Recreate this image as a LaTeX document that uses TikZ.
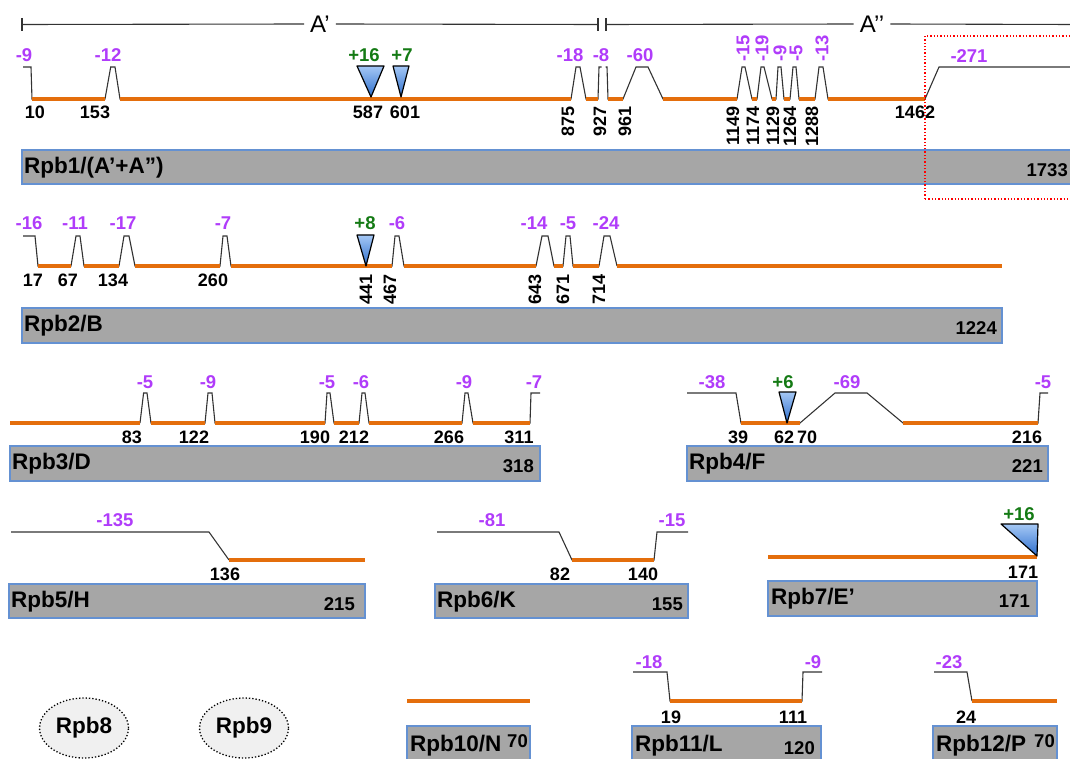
\documentclass[tikz,border=0pt]{standalone}
\usepackage{fontspec}
\setmainfont{Liberation Sans}
\usetikzlibrary{shapes.geometric}

\definecolor{seqorange}{RGB}{228,110,12}
\definecolor{delpurple}{RGB}{176,60,250}
\definecolor{insgreen}{RGB}{20,122,20}
\definecolor{boxgray}{RGB}{166,166,166}
\definecolor{boxblue}{RGB}{100,145,210}
\definecolor{tritop}{RGB}{165,200,245}
\definecolor{tribot}{RGB}{45,110,205}

\tikzset{
  prof/.style={line width=1.1pt, black!80},
  seq/.style={line width=4.5pt, seqorange},
  subbox/.style={draw=boxblue, fill=boxgray, line width=1.2pt},
  del/.style={text=delpurple, font=\bfseries\fontsize{18.5}{20}\selectfont, inner sep=0pt},
  ins/.style={text=insgreen, font=\bfseries\fontsize{18.5}{20}\selectfont, inner sep=0pt},
  num/.style={font=\bfseries\fontsize{18}{20}\selectfont, inner sep=0pt},
  pname/.style={font=\bfseries\fontsize{22.5}{24}\selectfont, anchor=west, inner sep=0pt},
  plen/.style={font=\bfseries\fontsize{18.5}{20}\selectfont, anchor=east, inner sep=0pt},
  tri/.style={draw=black, line width=1.2pt, top color=tritop, bottom color=tribot, line join=round},
  blob/.style={ellipse, draw, dotted, line width=1.3pt, fill=gray!12, minimum width=80pt, minimum height=60pt,
    font=\bfseries\fontsize{22.5}{24}\selectfont},
}

\begin{document}
\begin{tikzpicture}[x=1pt, y=-1pt]
\useasboundingbox (0,0) rectangle (1070,759);
\clip (0,0) rectangle (1070,759);

% domain bar
\node[font=\fontsize{24}{26}\selectfont, inner xsep=6pt] (aone) at (320,24) {A’};
\node[font=\fontsize{24}{26}\selectfont, inner xsep=6pt] (atwo) at (872,24) {A’’};
\coordinate (barL) at (22,24.5);
\coordinate (brkL) at (598,24.5);
\coordinate (brkR) at (606,24.5);
\coordinate (barR) at (1075,24.5);
\draw[prof] (22,18) -- (22,31);
\draw[prof] (598,18) -- (598,31);
\draw[prof] (606,18) -- (606,31);
\draw[prof] (barL) -- (aone.west);
\draw[prof] (aone.east) -- (brkL);
\draw[prof] (brkR) -- (atwo.west);
\draw[prof] (atwo.east) -- (barR);

% Rpb1
\draw[subbox] (22,150) rectangle (1080,184);
\draw[prof] (23,67) -- (31,67) -- (32,99) -- (105,99) -- (110.7,67) -- (115,67) -- (120,99) -- (571,99) -- (576,67) -- (580,67) -- (586,99) -- (598,99) -- (599,67) -- (601.5,67);
\draw[prof] (605.5,67) -- (607,67) -- (608,99) -- (623,99) -- (636,67) -- (648,67) -- (663,99) -- (737,99) -- (742,67) -- (745,67) -- (752,99) -- (757,99) -- (761,67) -- (764,67) -- (772,99) -- (776,99) -- (778,67) -- (781,67) -- (784,99) -- (790,99) -- (793,67) -- (796,67) -- (799,99) -- (815,99) -- (819,67) -- (823,67) -- (828,99) -- (925,99) -- (939,67) -- (1075,67);
\foreach \a/\b in {32/105, 120/571, 586/598, 608/623, 663/737, 752/757, 772/776, 784/790, 799/815, 828/925}
  \draw[seq] (\a,99) -- (\b,99);
\draw[tri] (357,66) -- (384,66) -- (371,97) -- cycle;
\draw[tri] (393,66) -- (409,66) -- (401,97) -- cycle;
\draw[red, dotted, line width=1.3pt] (925,199) -- (925,36) -- (1080,36);
\draw[red, dotted, line width=1.3pt] (925,199) -- (1080,199);
\foreach \x/\t [count=\i] in {24/-9, 108/-12, 570/-18, 601/-8, 640/-60}
  \node[del] (r1d\i) at (\x,55) {\t};
\node[del] (r1dc) at (969,56) {-271};
\foreach \x/\t [count=\i] in {743/-15, 762/-19, 780/-9, 796/-5, 822/-13}
  \node[del, rotate=90, anchor=west] (r1dr\i) at (\x,62) {\t};
\node[ins] (r1i1) at (364,55) {+16};
\node[ins] (r1i2) at (402,55) {+7};
\foreach \x/\t [count=\i] in {35/10, 95/153, 368/587, 405/601, 915/1462}
  \node[num] (r1n\i) at (\x,112) {\t};
\foreach \x/\t [count=\i] in {568/875, 600/927, 625/961, 733/1149, 753/1174, 773/1129, 790/1264, 812/1288}
  \node[num, rotate=90, anchor=east] (r1nr\i) at (\x,106) {\t};
\node[pname] (r1name) at (24,168) {Rpb1/(A’+A”)};
\node[plen] (r1len) at (1068,170) {1733};

% Rpb2
\draw[subbox] (22,308) rectangle (1002,343);
\draw[prof] (23,236) -- (35,236) -- (38,266) -- (71,266) -- (76,236) -- (80,236) -- (84,266) -- (119,266) -- (124,236) -- (129,236) -- (135,266) -- (220,266) -- (223,236) -- (227,236) -- (231,266) -- (392,266) -- (395,236) -- (399,236) -- (404,266) -- (536,266) -- (542,236) -- (548,236) -- (554,266) -- (563,266) -- (566,236) -- (570,236) -- (573,266) -- (599,266) -- (604,236) -- (610,236) -- (617,266);
\foreach \a/\b in {38/71, 84/119, 135/220, 231/392, 404/536, 554/563, 573/599, 617/1002}
  \draw[seq] (\a,266) -- (\b,266);
\draw[tri] (357,235) -- (374,235) -- (366,266) -- cycle;
\foreach \x/\t [count=\i] in {29/-16, 75/-11, 123/-17, 223/-7, 397/-6, 534/-14, 568/-5, 606/-24}
  \node[del] (r2d\i) at (\x,223) {\t};
\node[ins] (r2i1) at (365,223) {+8};
\foreach \x/\t [count=\i] in {33/17, 68/67, 113/134, 213/260}
  \node[num] (r2n\i) at (\x,280) {\t};
\foreach \x/\t [count=\i] in {366/441, 390/467, 535/643, 563/671, 599/714}
  \node[num, rotate=90, anchor=east] (r2nr\i) at (\x,274) {\t};
\node[pname] (r2name) at (24,326) {Rpb2/B};
\node[plen] (r2len) at (997,328) {1224};

% Rpb3
\draw[subbox] (10,446) rectangle (540,481);
\draw[prof] (140,423) -- (143.6,393) -- (147,393) -- (151,423) -- (205,423) -- (208,393) -- (212,393) -- (215,423) -- (325,423) -- (327,393) -- (330,393) -- (334,423) -- (359,423) -- (362,393) -- (365,393) -- (369,423) -- (462,423) -- (465,393) -- (468,393) -- (473,423) -- (530,423) -- (531,393) -- (540,393);
\foreach \a/\b in {10/140, 151/205, 215/325, 334/359, 369/462, 473/530}
  \draw[seq] (\a,423) -- (\b,423);
\foreach \x/\t [count=\i] in {145/-5, 208/-9, 327/-5, 361/-6, 464/-9, 534/-7}
  \node[del] (r3d\i) at (\x,382) {\t};
\foreach \x/\t [count=\i] in {132/83, 194/122, 315/190, 354/212, 449/266, 519/311}
  \node[num] (r3n\i) at (\x,437) {\t};
\node[pname] (r3name) at (12,464) {Rpb3/D};
\node[plen] (r3len) at (534,466) {318};

% Rpb4
\draw[subbox] (687,446) rectangle (1048,481);
\draw[prof] (687,393) -- (736,393) -- (741,423) -- (800,423) -- (835,393) -- (867,393) -- (903,423) -- (1038,423) -- (1040,393) -- (1048,393);
\foreach \a/\b in {741/800, 903/1038}
  \draw[seq] (\a,423) -- (\b,423);
\draw[tri] (779,392) -- (796,392) -- (787,423) -- cycle;
\foreach \x/\t [count=\i] in {712/-38, 847/-69, 1043/-5}
  \node[del] (r4d\i) at (\x,382) {\t};
\node[ins] (r4i1) at (783,382) {+6};
\foreach \x/\t [count=\i] in {738/39, 784/62, 807/70, 1027/216}
  \node[num] (r4n\i) at (\x,437) {\t};
\node[pname] (r4name) at (689,464) {Rpb4/F};
\node[plen] (r4len) at (1043,466) {221};

% Rpb5
\draw[subbox] (9,584) rectangle (365,618);
\draw[prof] (11,532) -- (209,532) -- (229,560);
\draw[seq] (229,560) -- (365,560);
\node[del] (r5d1) at (115,520) {-135};
\node[num] (r5n1) at (225,574) {136};
\node[pname] (r5name) at (11,602) {Rpb5/H};
\node[plen] (r5len) at (355,604) {215};

% Rpb6
\draw[subbox] (435,584) rectangle (688,618);
\draw[prof] (437,532) -- (559,532) -- (572,560) -- (654,560) -- (657,532) -- (688,532);
\draw[seq] (572,560) -- (654,560);
\node[del] (r6d1) at (492,520) {-81};
\node[del] (r6d2) at (672,520) {-15};
\node[num] (r6n1) at (560,574) {82};
\node[num] (r6n2) at (643,574) {140};
\node[pname] (r6name) at (437,602) {Rpb6/K};
\node[plen] (r6len) at (683,604) {155};

% Rpb7
\draw[subbox] (768,581) rectangle (1037,616);
\draw[seq] (768,557) -- (1037,557);
\draw[tri] (1001,524) -- (1038,524) -- (1037,556) -- cycle;
\node[ins] (r7i1) at (1019,514) {+16};
\node[num] (r7n1) at (1023,572) {171};
\node[pname] (r7name) at (771,599) {Rpb7/E’};
\node[plen] (r7len) at (1030,601) {171};

% Rpb8, Rpb9
\node[blob] (rpb8) at (84,728) {Rpb8};
\node[blob] (rpb9) at (244,728) {Rpb9};

% Rpb10
\draw[subbox] (407,726) rectangle (530,770);
\draw[seq] (407,701) -- (530,701);
\node[pname] (r10name) at (410,746) {Rpb10/N};
\node[plen] (r10len) at (528,741) {70};

% Rpb11
\draw[subbox] (632,726) rectangle (821,770);
\draw[prof] (633,672) -- (667,672) -- (670,701) -- (802,701) -- (803,672) -- (822,672);
\draw[seq] (670,701) -- (802,701);
\node[del] (r11d1) at (649,662) {-18};
\node[del] (r11d2) at (813,662) {-9};
\node[num] (r11n1) at (671,717) {19};
\node[num] (r11n2) at (793,717) {111};
\node[pname] (r11name) at (635,746) {Rpb11/L};
\node[plen] (r11len) at (815,748) {120};

% Rpb12
\draw[subbox] (933,726) rectangle (1057,770);
\draw[prof] (934,672) -- (967,672) -- (972,701);
\draw[seq] (972,701) -- (1057,701);
\node[del] (r12d1) at (949,662) {-23};
\node[num] (r12n1) at (966,717) {24};
\node[pname] (r12name) at (936,746) {Rpb12/P};
\node[plen] (r12len) at (1055,741) {70};

\end{tikzpicture}
\end{document}
